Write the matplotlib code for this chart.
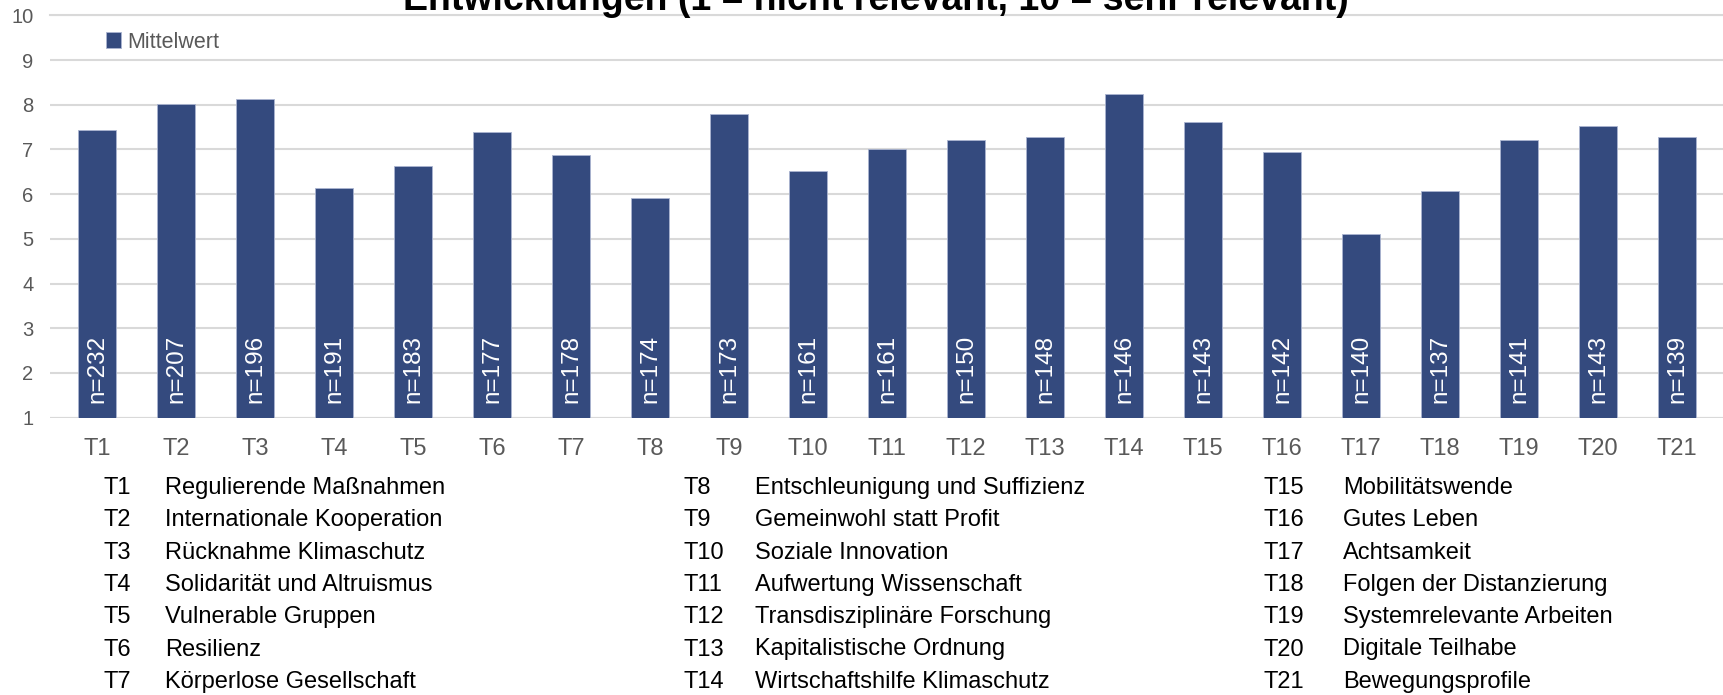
import matplotlib.pyplot as plt
import numpy as np

plt.rcParams['font.family'] = ['Liberation Sans', 'DejaVu Sans']

codes = ['T%d' % i for i in range(1, 22)]
means = [7.43, 8.02, 8.13, 6.14, 6.63, 7.39, 6.88, 5.92, 7.79, 6.51, 7.0,
         7.22, 7.27, 8.23, 7.61, 6.95, 5.11, 6.07, 7.22, 7.52, 7.27]
counts = [232, 207, 196, 191, 183, 177, 178, 174, 173, 161, 161,
          150, 148, 146, 143, 142, 140, 137, 141, 143, 139]
names = ['Regulierende Maßnahmen', 'Internationale Kooperation', 'Rücknahme Klimaschutz',
         'Solidarität und Altruismus', 'Vulnerable Gruppen', 'Resilienz',
         'Körperlose Gesellschaft', 'Entschleunigung und Suffizienz',
         'Gemeinwohl statt Profit', 'Soziale Innovation', 'Aufwertung Wissenschaft',
         'Transdisziplinäre Forschung', 'Kapitalistische Ordnung',
         'Wirtschaftshilfe Klimaschutz', 'Mobilitätswende', 'Gutes Leben',
         'Achtsamkeit', 'Folgen der Distanzierung', 'Systemrelevante Arbeiten',
         'Digitale Teilhabe', 'Bewegungsprofile']
title = 'Entwicklungen (1 = nicht relevant, 10 = sehr relevant)'

W, H = 1723, 695
BAR = '#344a7e'
GRID = '#d9d9d9'
GRAY = '#595959'


def px(x, y):
    # pixel from top-left -> figure fraction
    return x / W, 1 - y / H


def main():
    fig = plt.figure(figsize=(W / 100, H / 100), dpi=100)
    ax = fig.add_axes([50 / W, 1 - 417.6 / H, (W - 50) / W, (417.6 - 15.4) / H])

    x = np.arange(len(codes))
    ax.bar(x, np.array(means) - 1, bottom=1, width=0.48, color=BAR,
           edgecolor='#aab4d0', linewidth=0.6, label='Mittelwert', zorder=3)
    for xi, n in zip(x, counts):
        ax.text(xi, 1.33, 'n=%d' % n, rotation=90, ha='center', va='bottom',
                color='white', fontsize=17.5, zorder=4)

    ax.set_xlim(-0.595, 20.58)
    ax.set_ylim(1, 10)
    ax.set_yticks(range(1, 11))
    ax.set_xticks(x)
    ax.set_xticklabels(codes)
    ax.grid(axis='y', color=GRID, linewidth=1.5, zorder=0)
    for s in ax.spines.values():
        s.set_visible(False)
    ax.axhline(1, color=GRID, linewidth=1.5, zorder=2)
    ax.axhline(10, color=GRID, linewidth=1.5, zorder=2, clip_on=False)
    ax.tick_params(axis='y', length=0, labelsize=14.5, labelcolor=GRAY, pad=12)
    ax.tick_params(axis='x', length=0, labelsize=17, labelcolor=GRAY, pad=15)

    ax.legend(loc='center left', bbox_to_anchor=px(106, 42), bbox_transform=fig.transFigure,
              frameon=False, fontsize=15.5, labelcolor=GRAY, handlelength=0.7,
              handleheight=0.7, handletextpad=0.3, borderaxespad=0, borderpad=0)

    tx, ty = px(876, 10)
    fig.text(tx, ty, title, ha='center', va='baseline', fontsize=27,
             fontweight='bold', color='black')

    # key below the chart: three columns of seven
    col_code = [103, 683, 1264]
    col_name = [165, 755, 1343]
    for i, (c, name) in enumerate(zip(codes, names)):
        col, row = divmod(i, 7)
        yy = 488 + row * 32.3
        fig.text(*px(col_code[col], yy), c, ha='left', va='center', fontsize=17, color='black')
        fig.text(*px(col_name[col], yy), name, ha='left', va='center', fontsize=17, color='black')

    fig.savefig('out.png', dpi=100)


if __name__ == '__main__':
    main()
